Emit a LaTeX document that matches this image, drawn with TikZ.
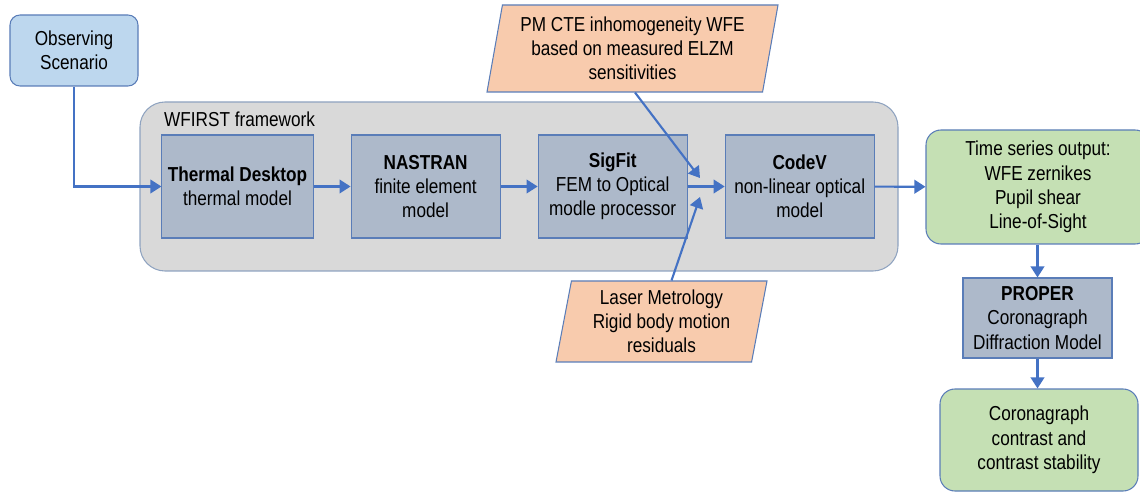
\documentclass[tikz,border=0pt]{standalone}
\usepackage{fontspec}
\setmainfont{Liberation Sans}[FakeStretch=0.85]
\usetikzlibrary{positioning,shapes.geometric,arrows.meta}
\definecolor{arrowblue}{HTML}{4472C4}
\definecolor{edgeblue}{HTML}{5A7DB8}
\definecolor{scenfill}{HTML}{BDD7EE}
\definecolor{framefill}{HTML}{D9D9D9}
\definecolor{frameedge}{HTML}{8FA3C0}
\definecolor{procfill}{HTML}{ADB9CA}
\definecolor{inputfill}{HTML}{F8CBAD}
\definecolor{outfill}{HTML}{C5E0B4}
\begin{document}
\begin{tikzpicture}[
  font=\fontsize{11.5}{13.8}\selectfont,
  proc/.style={draw=edgeblue, fill=procfill, line width=0.6pt, minimum width=2.98cm, minimum height=2.06cm, align=center},
  inbox/.style={trapezium, trapezium left angle=77, trapezium right angle=103, trapezium stretches body, draw=edgeblue, fill=inputfill, line width=0.6pt, align=center, inner sep=1pt},
  outbox/.style={draw=edgeblue, fill=outfill, rounded corners=0.3cm, line width=0.6pt, align=center},
  flow/.style={draw=arrowblue, line width=1.2pt, -{Triangle[length=0.22cm,width=0.27cm]}}
]
\useasboundingbox (0,0) rectangle (22.8,9.84);
% Framework region
\node[draw=frameedge, fill=framefill, rounded corners=0.5cm, line width=0.6pt, minimum width=15.16cm, minimum height=3.38cm] (frame) at (10.38,6.11) {};
\node[anchor=west] (framelbl) at (3.16,7.46) {WFIRST framework};
% Scenario
\node[draw=edgeblue, fill=scenfill, rounded corners=0.2cm, line width=0.6pt, minimum width=2.56cm, minimum height=1.42cm, align=center] (obs) at (1.48,8.83) {Observing\\Scenario};
% Model chain
\node[proc] (therm) at (4.75,6.11) {\textbf{Thermal Desktop}\\thermal model};
\node[proc, right=0.74cm of therm] (nastran) {\textbf{NASTRAN}\\finite element\\model};
\node[proc, right=0.74cm of nastran] (sigfit) {\textbf{SigFit}\\FEM to Optical\\modle processor};
\node[proc, right=0.74cm of sigfit] (codev) {\textbf{CodeV}\\non-linear optical\\model};
% Inputs
\node[inbox, minimum width=5.82cm, minimum height=1.74cm] (pmcte) at (12.65,8.87) {PM CTE inhomogeneity WFE\\based on measured ELZM\\sensitivities};
\node[inbox, minimum width=4.22cm, minimum height=1.62cm] (laser) at (13.23,3.41) {Laser Metrology\\Rigid body motion\\residuals};
% Outputs
\node[outbox, minimum width=4.48cm, minimum height=2.28cm] (tso) at (20.76,6.1) {Time series output:\\WFE zernikes\\Pupil shear\\Line-of-Sight};
\node[proc, minimum height=1.6cm] (proper) at (20.75,3.48) {\textbf{PROPER}\\Coronagraph\\Diffraction Model};
\node[outbox, minimum width=3.96cm, minimum height=2.04cm] (coro) at (20.78,1.04) {Coronagraph\\contrast and\\contrast stability};
% Arrows
\coordinate (pmend) at (14.0,6.28);
\coordinate (lmend) at (14.0,5.9);
\draw[flow] (obs.south) |- (therm.west);
\draw[flow] (therm) -- (nastran);
\draw[flow] (nastran) -- (sigfit);
\draw[flow] (sigfit) -- (codev);
\draw[flow] ([xshift=0.05cm]pmcte.south) -- (pmend);
\draw[flow] ([xshift=0.2cm]laser.north) -- (lmend);
\draw[flow] (codev) -- (tso);
\draw[flow] (tso.south -| proper.north) -- (proper);
\draw[flow] (proper) -- (coro.north -| proper.south);
\end{tikzpicture}
\end{document}
